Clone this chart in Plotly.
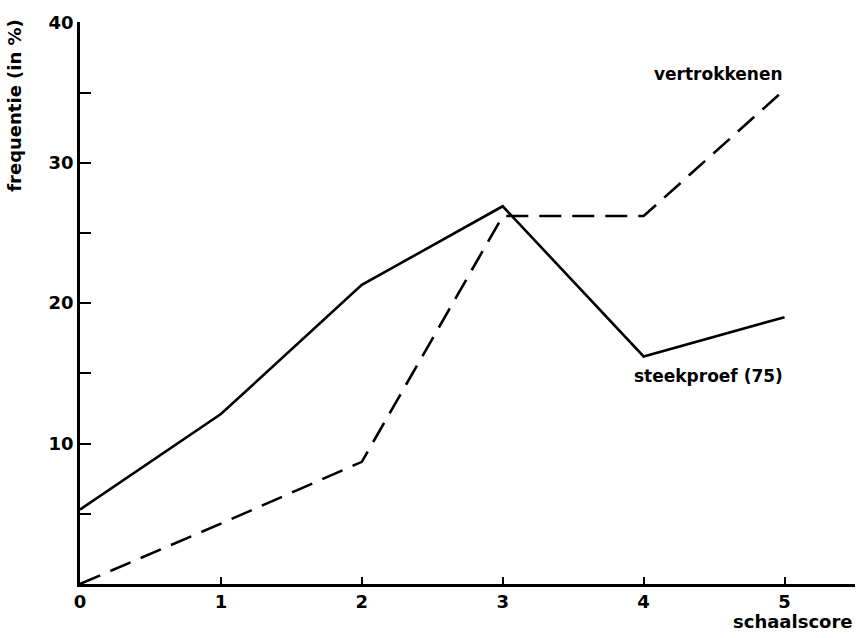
import plotly.graph_objects as go

schaalscore = [0, 1, 2, 3, 4, 5]
steekproef = [5.3, 12.1, 21.3, 26.9, 16.2, 19.0]
vertrokkenen = [0.0, 4.3, 8.7, 26.2, 26.2, 35.2]
x_ticks = [0, 1, 2, 3, 4, 5]
y_ticks = [5, 10, 15, 20, 25, 30, 35, 40]
y_labels = ["", "10", "", "20", "", "30", "", "40"]

FONT = "DejaVu Sans"

fig = go.Figure()
fig.add_trace(go.Scatter(x=schaalscore, y=steekproef, mode="lines",
                         line=dict(color="black", width=2.6), showlegend=False))
fig.add_trace(go.Scatter(x=schaalscore, y=vertrokkenen, mode="lines",
                         line=dict(color="black", width=2.6, dash="22px,11px"), showlegend=False))

fig.update_layout(
    width=867, height=638,
    margin=dict(l=80, r=12, t=15, b=54),
    plot_bgcolor="white", paper_bgcolor="white",
    font=dict(family=FONT, color="black", size=17),
    xaxis=dict(range=[0, 5.5], tickvals=x_ticks, ticktext=[str(v) for v in x_ticks],
               ticks="inside", ticklen=7, tickwidth=1.5, tickcolor="black",
               showline=True, linecolor="black", linewidth=2.5, showgrid=False, zeroline=False,
               tickfont=dict(family=FONT, size=18, color="black", weight="bold")),
    yaxis=dict(range=[0, 40.02], tickvals=y_ticks, ticktext=y_labels,
               ticks="inside", ticklen=11, tickwidth=2, tickcolor="black",
               showline=True, linecolor="black", linewidth=2.5, showgrid=False, zeroline=False,
               tickfont=dict(family=FONT, size=18, color="black", weight="bold")),
)

fig.add_annotation(text="frequentie (in %)", xref="paper", yref="paper",
                   x=-0.084, y=1.01, xanchor="center", yanchor="top", textangle=-90,
                   showarrow=False, font=dict(family=FONT, size=18, weight="bold"))
fig.add_annotation(text="schaalscore", xref="paper", yref="paper",
                   x=1.0, y=-0.067, xanchor="right", yanchor="middle",
                   showarrow=False, font=dict(family=FONT, size=18, weight="bold"))
fig.add_annotation(text="vertrokkenen", x=5, y=36.3, xanchor="right", yanchor="middle",
                   showarrow=False, font=dict(family=FONT, size=17, weight="bold"))
fig.add_annotation(text="steekproef (75)", x=3.92, y=14.8, xanchor="left", yanchor="middle",
                   showarrow=False, font=dict(family=FONT, size=17, weight="bold"))

fig.write_html("out.html", config={"displayModeBar": False},
               post_script="document.body.style.margin='0';")
